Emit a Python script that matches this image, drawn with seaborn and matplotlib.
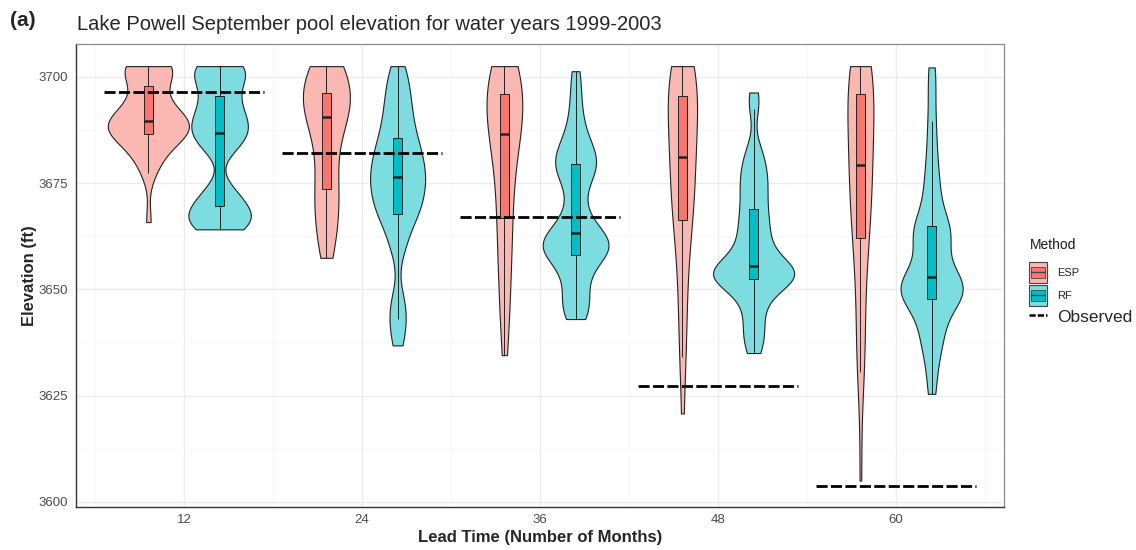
import numpy as np
import pandas as pd
import matplotlib
matplotlib.use("Agg")
import matplotlib.pyplot as plt
import seaborn as sns
from matplotlib.patches import Patch, Rectangle
from matplotlib.lines import Line2D
from matplotlib.legend_handler import HandlerBase
from matplotlib.ticker import AutoMinorLocator

# ---------------- data ----------------
lead_times = [12, 24, 36, 48, 60]
methods = ["ESP", "RF"]
observed = [3696.5, 3682.1, 3667.0, 3627.2, 3603.7]

esp_12 = [3702.5, 3702.5, 3702.5, 3702.5, 3702.5, 3702.5, 3702.0, 3701.5, 3700.5, 3699.2,
          3697.5, 3696.0, 3694.5, 3693.5, 3692.5, 3691.8, 3691.0, 3690.5, 3690.0, 3689.7,
          3689.5, 3689.2, 3688.8, 3688.5, 3688.2, 3687.8, 3687.5, 3687.2, 3686.9, 3686.6,
          3686.3, 3685.8, 3685.0, 3684.2, 3683.2, 3682.0, 3680.5, 3678.8, 3677.3, 3665.8]
rf_12 = [3702.5, 3702.5, 3702.5, 3702.5, 3702.0, 3701.2, 3700.0, 3698.8, 3697.5, 3696.5,
         3695.0, 3693.8, 3692.6, 3691.6, 3690.6, 3689.8, 3689.0, 3688.3, 3687.6, 3687.0,
         3686.3, 3685.4, 3684.5, 3683.6, 3682.6, 3674.0, 3672.8, 3671.8, 3670.8, 3669.8,
         3668.8, 3668.2, 3667.6, 3667.0, 3666.4, 3665.8, 3665.2, 3664.7, 3664.3, 3664.1]
esp_24 = [3702.5, 3702.5, 3702.5, 3702.5, 3702.0, 3701.0, 3700.0, 3699.0, 3698.0, 3697.0,
          3696.0, 3695.4, 3694.8, 3694.2, 3693.6, 3693.0, 3692.4, 3691.8, 3691.3, 3690.9,
          3690.0, 3688.5, 3687.0, 3685.3, 3683.5, 3681.6, 3679.6, 3677.6, 3675.6, 3673.8,
          3672.8, 3671.5, 3670.0, 3668.4, 3666.7, 3665.0, 3663.2, 3661.3, 3659.3, 3657.4]
rf_24 = [3702.5, 3700.3, 3698.2, 3696.2, 3694.3, 3692.6, 3691.0, 3689.5, 3688.0, 3686.3,
         3685.2, 3684.2, 3683.2, 3682.2, 3681.2, 3680.2, 3679.3, 3678.4, 3677.6, 3676.8,
         3676.2, 3675.3, 3674.4, 3673.5, 3672.6, 3671.7, 3670.8, 3669.9, 3669.0, 3668.1,
         3667.0, 3665.5, 3663.8, 3661.5, 3658.5, 3648.5, 3645.5, 3643.0, 3640.5, 3636.8]
esp_36 = [3702.5, 3702.5, 3702.5, 3702.0, 3701.2, 3700.2, 3699.2, 3698.2, 3697.3, 3696.5,
          3695.6, 3694.6, 3693.6, 3692.6, 3691.6, 3690.6, 3689.6, 3688.7, 3687.8, 3687.0,
          3686.0, 3684.6, 3683.0, 3681.2, 3679.3, 3677.2, 3675.0, 3672.6, 3670.0, 3667.3,
          3665.5, 3663.0, 3660.3, 3657.5, 3654.5, 3651.3, 3648.0, 3644.5, 3640.0, 3634.5]
rf_36 = [3701.3, 3696.5, 3692.5, 3689.0, 3686.5, 3684.6, 3683.2, 3682.0, 3681.0, 3680.0,
         3679.2, 3678.3, 3677.3, 3676.0, 3674.0, 3671.2, 3668.6, 3666.6, 3665.0, 3663.8,
         3662.8, 3662.3, 3661.8, 3661.3, 3660.8, 3660.2, 3659.7, 3659.2, 3658.7, 3658.2,
         3657.5, 3656.3, 3654.8, 3653.0, 3651.0, 3649.0, 3647.2, 3645.6, 3644.2, 3643.0]
esp_48 = [3702.5, 3702.5, 3702.5, 3702.0, 3701.0, 3700.0, 3699.0, 3698.0, 3697.2, 3696.4,
          3695.2, 3693.8, 3692.3, 3690.8, 3689.3, 3687.8, 3686.3, 3684.8, 3683.3, 3681.8,
          3680.6, 3679.0, 3677.4, 3675.8, 3674.2, 3672.6, 3671.0, 3669.5, 3668.0, 3666.6,
          3665.0, 3662.0, 3659.0, 3655.5, 3651.5, 3647.0, 3642.0, 3636.5, 3634.0, 3620.8]
rf_48 = [3696.3, 3692.5, 3683.5, 3681.0, 3679.0, 3677.3, 3675.6, 3674.0, 3672.3, 3670.5,
         3668.5, 3667.0, 3665.5, 3664.0, 3662.5, 3661.0, 3659.7, 3658.4, 3657.1, 3655.8,
         3655.0, 3654.7, 3654.4, 3654.1, 3653.8, 3653.5, 3653.2, 3652.9, 3652.7, 3652.6,
         3652.0, 3651.0, 3649.8, 3648.3, 3646.5, 3644.0, 3641.5, 3639.5, 3637.5, 3635.0]
esp_60 = [3702.5, 3702.5, 3702.5, 3701.8, 3701.0, 3700.2, 3699.4, 3698.6, 3697.9, 3697.3,
          3695.5, 3693.6, 3691.7, 3689.8, 3688.0, 3686.2, 3684.4, 3682.6, 3680.9, 3679.5,
          3678.8, 3677.0, 3675.2, 3673.4, 3671.6, 3669.8, 3668.0, 3666.2, 3664.4, 3662.5,
          3661.0, 3657.5, 3653.5, 3649.0, 3644.0, 3639.0, 3634.5, 3631.5, 3630.5, 3605.0]
rf_60 = [3702.2, 3696.0, 3689.6, 3684.5, 3680.0, 3676.5, 3673.5, 3670.8, 3668.3, 3666.0,
         3664.5, 3664.0, 3663.4, 3662.6, 3661.5, 3659.8, 3658.0, 3656.2, 3654.6, 3653.3,
         3652.4, 3651.9, 3651.4, 3650.9, 3650.4, 3649.9, 3649.4, 3648.9, 3648.4, 3647.9,
         3647.0, 3645.8, 3644.3, 3642.5, 3640.5, 3638.7, 3637.0, 3634.5, 3630.5, 3625.4]

esp_groups = [esp_12, esp_24, esp_36, esp_48, esp_60]
rf_groups = [rf_12, rf_24, rf_36, rf_48, rf_60]

rows = []
for lt, e, r in zip(lead_times, esp_groups, rf_groups):
    rows += [(lt, "ESP", v) for v in e]
    rows += [(lt, "RF", v) for v in r]
df = pd.DataFrame(rows, columns=["lead", "Method", "elev"])

# ---------------- style ----------------
ESP_FULL, RF_FULL = "#F8766D", "#00BFC4"
ESP_PALE, RF_PALE = "#FBB7B2", "#7CDDE0"
EDGE = "#222222"
pale = {"ESP": ESP_PALE, "RF": RF_PALE}
full = {"ESP": ESP_FULL, "RF": RF_FULL}

sns.set_style("white")
plt.rcParams["font.family"] = ["Liberation Sans", "DejaVu Sans"]

fig = plt.figure(figsize=(11.36, 5.5), dpi=100)
ax = fig.add_axes([76 / 1136, 43.5 / 550, 928 / 1136, 462.5 / 550])

ax.set_axisbelow(True)
ax.xaxis.set_minor_locator(AutoMinorLocator(2))
ax.yaxis.set_minor_locator(AutoMinorLocator(2))
ax.grid(True, which="major", color="#EBEBEB", linewidth=0.9)
ax.grid(True, which="minor", color="#F4F4F4", linewidth=0.5)

# ESP ensembles are smoother (fewer members) than the RF ones
for m, bw in [("ESP", 0.9), ("RF", 0.5)]:
    sns.violinplot(data=df[df["Method"] == m], x="lead", y="elev", hue="Method",
                   hue_order=methods, dodge=True, native_scale=True, width=0.8,
                   gap=-0.14, cut=0, inner=None, density_norm="area", bw_adjust=bw,
                   palette=pale, saturation=1, linewidth=0.8, linecolor=EDGE,
                   legend=False, ax=ax)

sns.boxplot(data=df, x="lead", y="elev", hue="Method", hue_order=methods, dodge=True,
            native_scale=True, width=0.8, gap=0.875, palette=full,
            saturation=1, showfliers=False, showcaps=False, linewidth=0.7,
            linecolor=EDGE, medianprops=dict(linewidth=1.8, color=EDGE),
            legend=False, ax=ax)

ax.hlines(observed, [lt - 5.4 for lt in lead_times], [lt + 5.4 for lt in lead_times],
          colors="black", linewidth=2.0, linestyles=(0, (4, 1.2)), zorder=5)

ax.set_xlim(4.72, 67.28)
ax.set_ylim(3598.9, 3707.7)
ax.set_xticks(lead_times)
ax.set_yticks([3600, 3625, 3650, 3675, 3700])
ax.tick_params(axis="both", which="major", length=3.5, width=0.8, color="#333333",
               labelsize=9.5, labelcolor="#4D4D4D", pad=2)
ax.tick_params(axis="both", which="minor", length=0)
ax.set_xlabel("Lead Time (Number of Months)", fontsize=12, fontweight="bold", labelpad=3)
ax.set_ylabel("Elevation (ft)", fontsize=12, fontweight="bold", labelpad=1)

for side in ["top", "right"]:
    ax.spines[side].set_color("#8C8C8C")
    ax.spines[side].set_linewidth(0.9)
for side in ["left", "bottom"]:
    ax.spines[side].set_color("#333333")
    ax.spines[side].set_linewidth(1.0)

fig.text(10 / 1136, 1 - 21 / 550, "(a)", fontsize=15, fontweight="bold", va="center", ha="left")
fig.text(77 / 1136, 1 - 25 / 550, "Lake Powell September pool elevation for water years 1999-2003",
         fontsize=14.5, va="center", ha="left")


class VioBoxHandler(HandlerBase):
    def __init__(self, pale_c, full_c):
        super().__init__()
        self.pale_c, self.full_c = pale_c, full_c

    def create_artists(self, legend, orig_handle, xdescent, ydescent, width, height, fontsize, trans):
        x0, y0 = -xdescent, -ydescent
        outer = Rectangle((x0, y0), width, height, facecolor=self.pale_c, edgecolor="#444444",
                          linewidth=0.8, transform=trans)
        inner = Rectangle((x0 + width * 0.1, y0 + height * 0.25), width * 0.8, height * 0.5,
                          facecolor=self.full_c, edgecolor="#444444", linewidth=0.6, transform=trans)
        med = Line2D([x0 + width * 0.1, x0 + width * 0.9], [y0 + height * 0.5] * 2,
                     color="#444444", linewidth=1.0, transform=trans)
        return [outer, inner, med]


# legend: title as text, entries below
fig.text(1030 / 1136, 1 - 245 / 550, "Method", fontsize=10, va="center", ha="left", color="#1A1A1A")
h_esp = Patch(facecolor=ESP_FULL)
h_rf = Patch(facecolor=RF_FULL)
h_obs = Line2D([], [], color="black", linewidth=1.8, linestyle=(0, (2.5, 0.8)))
leg = fig.legend([h_esp, h_rf, h_obs], ["ESP", "RF", "Observed"],
                 handler_map={h_esp: VioBoxHandler(ESP_PALE, ESP_FULL),
                              h_rf: VioBoxHandler(RF_PALE, RF_FULL)},
                 loc="upper left", bbox_to_anchor=(1029 / 1136, 1 - 262 / 550),
                 frameon=False, fontsize=8, alignment="left",
                 handlelength=1.6, handleheight=2.5, handletextpad=0.9,
                 labelspacing=0.2, borderpad=0, borderaxespad=0)
leg.get_texts()[2].set_fontsize(12.5)

fig.savefig("out.png", dpi=100)
